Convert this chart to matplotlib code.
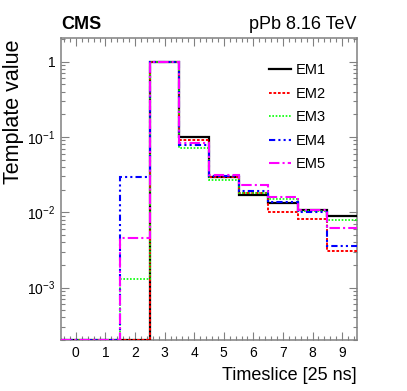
import numpy as np
import matplotlib
matplotlib.use('Agg')
import matplotlib.pyplot as plt
from matplotlib.ticker import MultipleLocator, LogLocator, FixedLocator, FixedFormatter, NullFormatter

plt.rcParams['font.family'] = ['Liberation Sans', 'DejaVu Sans']
plt.rcParams['mathtext.default'] = 'regular'

# bin contents per timeslice (0..9)
timeslices = np.arange(10)
em1 = [0, 0, 0, 1.0, 0.100, 0.029, 0.0171, 0.0134, 0.0107, 0.0090]
em2 = [0, 0, 0, 1.0, 0.092, 0.029, 0.0178, 0.0100, 0.0081, 0.0031]
em3 = [0, 0, 0.0013, 1.0, 0.072, 0.027, 0.0180, 0.0148, 0.0103, 0.0079]
em4 = [0, 0, 0.029, 1.0, 0.077, 0.030, 0.0190, 0.0137, 0.0102, 0.0036]
em5 = [0, 0, 0.0045, 1.0, 0.083, 0.0316, 0.0229, 0.0160, 0.0107, 0.0062]
labels = ['EM1', 'EM2', 'EM3', 'EM4', 'EM5']

ymin, ymax = 2e-4, 2.06
edges = np.arange(-0.5, 10.0, 1.0)

fig = plt.figure(figsize=(4.07, 3.91), dpi=100)
ax = fig.add_axes([0.150, 0.130, 0.727, 0.773])

styles = [
    dict(color='black', lw=1.6, linestyle='-'),
    dict(color='#ff0000', lw=1.4, linestyle=(0, (1.4, 0.9))),
    dict(color='#00ff00', lw=1.2, linestyle=(0, (1, 1))),
    dict(color='#0000ff', lw=1.5, linestyle=(0, (3, 1.5, 1, 1.5, 1, 1.5))),
    dict(color='#ff00ff', lw=1.5, linestyle=(0, (5, 1.5, 1, 1.5))),
]

handles = []
for vals, lab, st in zip([em1, em2, em3, em4, em5], labels, styles):
    # empty bins are drawn along the lower frame edge, as ROOT does
    v = np.clip(np.array(vals, dtype=float), ymin * 1.02, None)
    ax.stairs(v, edges, baseline=None, label=lab, zorder=3, **st)
    handles.append(plt.Line2D([], [], **st))

ax.set_yscale('log')
ax.set_xlim(-0.5, 9.5)
ax.set_ylim(ymin, ymax)

ax.xaxis.set_major_locator(MultipleLocator(1))
ax.xaxis.set_minor_locator(MultipleLocator(0.2))
ax.yaxis.set_major_locator(FixedLocator([1e-3, 1e-2, 1e-1, 1]))
ax.yaxis.set_major_formatter(FixedFormatter(['$10^{-3}$', '$10^{-2}$', '$10^{-1}$', '1']))
ax.yaxis.set_minor_locator(LogLocator(base=10, subs=np.arange(2, 10)))
ax.yaxis.set_minor_formatter(NullFormatter())

fc = '0.5'
for sp in ax.spines.values():
    sp.set_color(fc)
    sp.set_linewidth(1.1)
    sp.set_zorder(2)
ax.tick_params(which='both', direction='in', top=True, right=True, color=fc, width=0.8)
ax.tick_params(which='major', length=6, labelsize=10, pad=4)
ax.tick_params(which='minor', length=3)

ax.set_xlabel('Timeslice [25 ns]', fontsize=13, loc='right', labelpad=5)
fig.text(14 / 407, 1 - 39 / 391, 'Template value', fontsize=15.5, rotation=90,
         ha='center', va='top')

fig.text(0.150, 0.925, 'CMS', fontsize=13, fontweight='bold', ha='left', va='baseline')
fig.text(0.877, 0.925, 'pPb 8.16 TeV', fontsize=13, ha='right', va='baseline')

ax.legend(handles, labels, loc='upper left', bbox_to_anchor=(0.682, 0.935),
          frameon=False, fontsize=10.5, handlelength=1.5, handletextpad=0.35,
          labelspacing=0.65, borderaxespad=0)

fig.savefig('out.png', dpi=100)
